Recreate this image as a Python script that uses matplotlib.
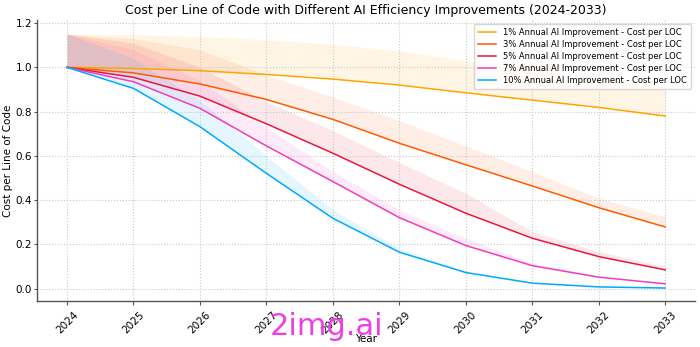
import numpy as np
import matplotlib
matplotlib.use('Agg')
import matplotlib.pyplot as plt

years = [2024, 2025, 2026, 2027, 2028, 2029, 2030, 2031, 2032, 2033]

labels = ["1% Annual AI Improvement - Cost per LOC",
          "3% Annual AI Improvement - Cost per LOC",
          "5% Annual AI Improvement - Cost per LOC",
          "7% Annual AI Improvement - Cost per LOC",
          "10% Annual AI Improvement - Cost per LOC"]

cost_1 = [1.0, 0.995, 0.985, 0.968, 0.947, 0.92, 0.885, 0.852, 0.819, 0.78]
cost_3 = [1.0, 0.975, 0.925, 0.855, 0.765, 0.657, 0.56, 0.464, 0.366, 0.279]
cost_5 = [1.0, 0.955, 0.87, 0.745, 0.612, 0.472, 0.341, 0.228, 0.145, 0.085]
cost_7 = [1.0, 0.935, 0.815, 0.645, 0.484, 0.321, 0.195, 0.104, 0.052, 0.022]
cost_10 = [1.0, 0.905, 0.732, 0.521, 0.318, 0.165, 0.073, 0.025, 0.008, 0.003]

upper_1 = [1.15, 1.148, 1.14, 1.125, 1.105, 1.075, 1.03, 0.99, 0.95, 0.91]
upper_3 = [1.15, 1.13, 1.08, 0.965, 0.866, 0.76, 0.645, 0.529, 0.409, 0.326]
upper_5 = [1.15, 1.11, 1.0, 0.845, 0.714, 0.57, 0.431, 0.258, 0.168, 0.1]
upper_7 = [1.15, 1.08, 0.94, 0.73, 0.529, 0.356, 0.228, 0.115, 0.058, 0.025]
upper_10 = [1.15, 1.04, 0.85, 0.6, 0.356, 0.183, 0.079, 0.028, 0.009, 0.0035]

colors = ['#FFA500', '#FF5A00', '#E8173C', '#F23DB8', '#00AAFF']

costs = [cost_1, cost_3, cost_5, cost_7, cost_10]
uppers = [upper_1, upper_3, upper_5, upper_7, upper_10]

fig = plt.figure(figsize=(7, 3.47), dpi=100)
ax = fig.add_axes([0.053, 0.133, 0.94, 0.81])

for cost, upper, color, label in zip(costs, uppers, colors, labels):
    ax.plot(years, cost, color=color, lw=1.1, label=label)
    ax.fill_between(years, cost, upper, color=color, alpha=0.1, lw=0)

ax.set_title('Cost per Line of Code with Different AI Efficiency Improvements (2024-2033)',
             fontsize=9, pad=4)
ax.set_xlabel('Year', fontsize=7.5, labelpad=-1)
ax.set_ylabel('Cost per Line of Code', fontsize=7.5, labelpad=2)
ax.set_xticks(years)
ax.tick_params(axis='x', labelrotation=45, labelsize=7.5, length=3, color='#555555')
ax.tick_params(axis='y', labelsize=7.5, length=2, pad=1.5, color='#555555')
ax.set_ylim(-0.055, 1.215)
ax.grid(True, linestyle=':', color='#c8c8c8', lw=0.8)
for s in ['top', 'right']:
    ax.spines[s].set_visible(False)
for s in ['left', 'bottom']:
    ax.spines[s].set_color('#555555')
    ax.spines[s].set_linewidth(1.0)

ax.legend(loc='upper right', fontsize=6.0, handlelength=2.2, borderpad=0.5, labelspacing=0.35)

fig.text(0.467, 0.058, '2img.ai', color='#EE3FE6', fontsize=22, ha='center', va='center')

plt.savefig('out.png', dpi=100)
plt.close()
